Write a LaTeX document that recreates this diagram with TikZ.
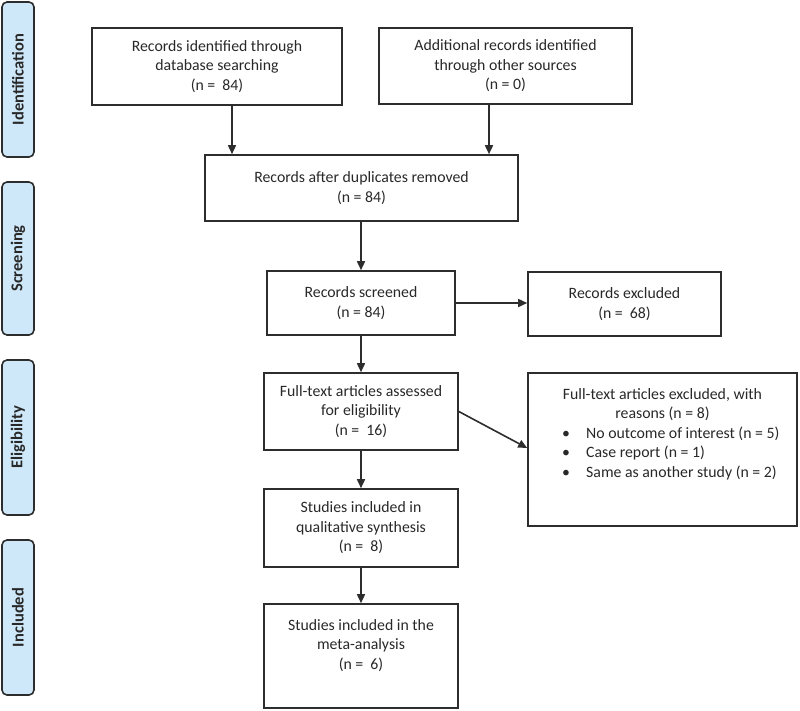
\documentclass[tikz,border=0pt]{standalone}
\usepackage{fontspec}
\setmainfont{Carlito}
\usetikzlibrary{arrows.meta,calc}
\definecolor{sideblue}{RGB}{206,232,249}
\definecolor{edge}{RGB}{45,45,45}
\definecolor{txt}{RGB}{40,40,40}
\begin{document}
\begin{tikzpicture}[x=1pt,y=-1pt,
  box/.style={draw=edge,line width=1.6pt,rectangle,align=center,inner sep=0pt,
    font=\fontsize{15.8}{19.5}\selectfont,text=txt},
  side/.style={draw=edge,line width=1.6pt,fill=sideblue,rounded corners=5pt,
    minimum width=32pt,inner sep=0pt},
  sidetext/.style={rotate=90,font=\fontsize{16.5}{18}\selectfont\bfseries,text=txt},
  plain/.style={align=center,inner sep=0pt,font=\fontsize{15.8}{19.5}\selectfont,text=txt},
  arr/.style={draw=edge,line width=1.6pt,-{Triangle[length=9pt,width=8pt]}}
]
\useasboundingbox (0,0) rectangle (800,711);

% side phase labels
\node[side,minimum height=155pt] (sid) at (18,79.5) {};
\node[sidetext] at (sid.center) {Identification};
\node[side,minimum height=153pt] (sscr) at (18,258.5) {};
\node[sidetext] at (sscr.center) {Screening};
\node[side,minimum height=155pt] (selig) at (18,437.5) {};
\node[sidetext] at (selig.center) {Eligibility};
\node[side,minimum height=155pt] (sinc) at (18,617.5) {};
\node[sidetext] at (sinc.center) {Included};

% boxes
\node[box,minimum width=250pt,minimum height=77pt] (b1) at (217,66.5)
  {Records identified through\\database searching\\(n =\ \ 84)};
\node[box,minimum width=253pt,minimum height=76pt] (b2) at (505.5,66)
  {Additional records identified\\through other sources\\(n = 0)};
\node[box,minimum width=313pt,minimum height=66pt] (b3) at (361.5,188)
  {Records after duplicates removed\\(n = 84)};
\node[box,minimum width=188pt,minimum height=64pt] (b4) at (361,303)
  {Records screened\\(n = 84)};
\node[box,minimum width=193pt,minimum height=64pt] (b4x) at (624.5,304)
  {Records excluded\\(n =\ \ 68)};
\node[box,minimum width=194pt,minimum height=77pt] (b5) at (361,411.5)
  {Full-text articles assessed\\for eligibility\\(n =\ \ 16)};
\node[box,minimum width=269pt,minimum height=153pt] (b5x) at (662.5,449.5) {};
\node[plain,anchor=north] (b5xt) at ([yshift=-16pt]b5x.north)
  {Full-text articles excluded, with\\reasons (n = 8)};
\node[plain,anchor=north west,align=left] (b5xl) at ([yshift=-5pt]b5xt.south -| 562,0)
  {\makebox[24pt][l]{\textbullet}No outcome of interest (n = 5)\\
   \makebox[24pt][l]{\textbullet}Case report (n = 1)\\
   \makebox[24pt][l]{\textbullet}Same as another study (n = 2)};
\node[box,minimum width=194pt,minimum height=78pt] (b6) at (361,528)
  {Studies included in\\qualitative synthesis\\(n =\ \ 8)};
\node[box,minimum width=194pt,minimum height=104pt] (b7) at (361,656) {};
\node[plain,anchor=north] (b7t) at ([yshift=-16pt]b7.north)
  {Studies included in the\\meta-analysis\\(n =\ \ 6)};

% connectors
\draw[arr] ([xshift=15pt]b1.south) -- ([xshift=15pt]b1.south |- b3.north);
\draw[arr] ([xshift=-16.5pt]b2.south) -- ([xshift=-16.5pt]b2.south |- b3.north);
\draw[arr] (b4.north |- b3.south) -- (b4.north);
\draw[arr] (b4.east) -- (b4.east -| b4x.west);
\draw[arr] (b4.south) -- (b5.north);
\draw[arr] (b5.east) -- ([yshift=1.5pt]b5x.west);
\draw[arr] (b5.south) -- (b6.north);
\draw[arr] (b6.south) -- (b7.north);
\end{tikzpicture}
\end{document}
